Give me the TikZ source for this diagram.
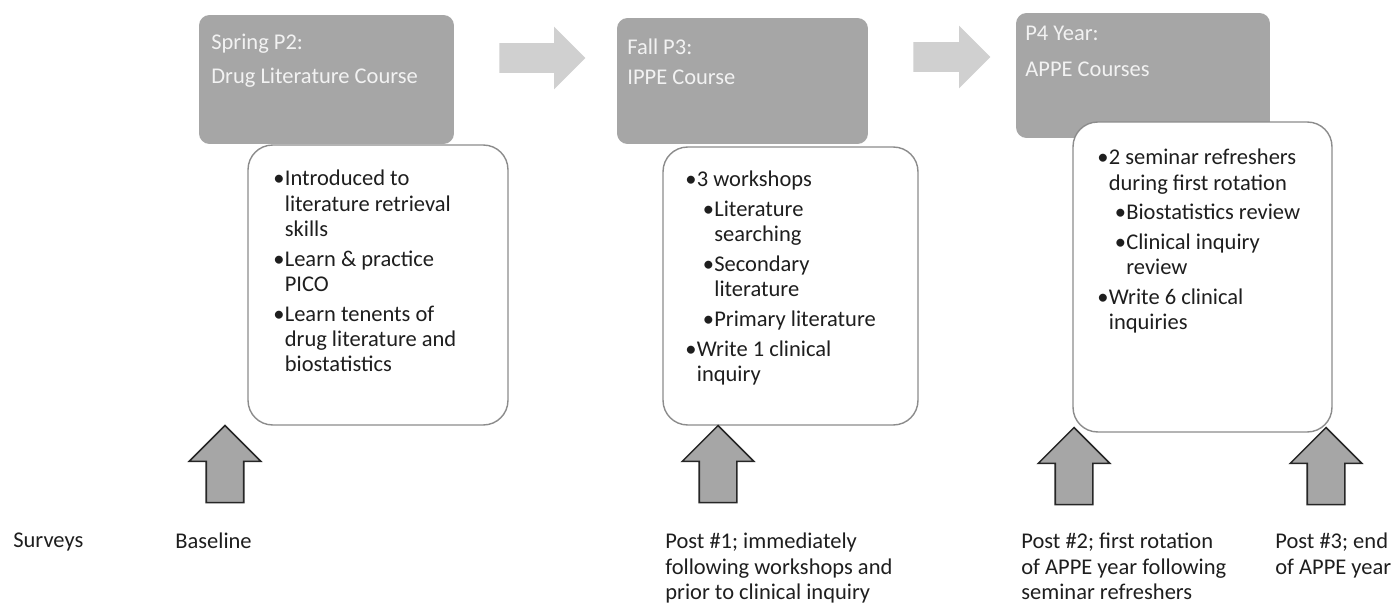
\documentclass[tikz,border=0pt]{standalone}
\usepackage{fontspec}
\setmainfont{Carlito}
\usetikzlibrary{positioning,shapes.arrows}
\definecolor{phase}{HTML}{A6A6A6}
\definecolor{flow}{HTML}{D0D0D0}
\definecolor{edge}{HTML}{8C8C8C}
\definecolor{ink}{HTML}{1E1E1E}
\newcommand{\bodyfont}{\fontsize{12.8pt}{14.4pt}\selectfont}
\newlength{\bulw}\setlength{\bulw}{0.23cm}
\newcommand{\itm}{\makebox[\bulw][l]{\textbullet}}
\newcommand{\cnt}{\hspace*{\bulw}}
\newcommand{\subitm}{\hspace*{0.35cm}\itm}
\newcommand{\subcnt}{\hspace*{0.35cm}\cnt}

\begin{document}
\begin{tikzpicture}[
  x=0.02cm, y=-0.02cm,
  phasebox/.style={fill=phase, rounded corners=6pt, inner sep=0pt},
  phasetitle/.style={anchor=north west, inner sep=0pt, align=left,
                     text=white!95!black, font=\bodyfont},
  notebox/.style={draw=edge, fill=white, rounded corners=14pt, line width=0.8pt, inner sep=0pt},
  notetext/.style={anchor=north west, inner sep=0pt, align=left, text=ink, font=\bodyfont},
  flowarrow/.style={single arrow, fill=flow, single arrow head extend=0.33cm,
                    inner xsep=0pt, inner ysep=0.29cm, minimum width=1.24cm},
  surveyarrow/.style={single arrow, rotate=90, draw=black!85, fill=phase, line width=0.9pt,
                      single arrow head extend=0.34cm, inner xsep=0pt, inner ysep=0.36cm,
                      minimum width=1.4cm, minimum height=1.54cm},
  surveylabel/.style={anchor=north west, inner sep=0pt, align=left, text=ink, font=\bodyfont}
]
  \useasboundingbox (0,0) rectangle (1396,607);

  % Phase boxes
  \node[phasebox, minimum width=5.1cm, minimum height=2.58cm] (spring) at (326.5,79.5) {};
  \node[phasebox, minimum width=5.02cm, minimum height=2.52cm] (fall) at (742.5,81) {};
  \node[phasebox, minimum width=5.08cm, minimum height=2.5cm] (year) at (1143,75.5) {};

  \node[phasetitle] (springtitle) at (211,34) {Spring P2:\\[4.5pt]Drug Literature Course};
  \node[phasetitle] (falltitle) at (627,39) {Fall P3:\\[2.3pt]IPPE Course};
  \node[phasetitle] (yeartitle) at (1025,26) {P4 Year:\\[6.2pt]APPE Courses};

  % Arrows between phases
  \node[flowarrow, minimum height=1.72cm] (flowa) at (535,58) {};
  \node[flowarrow, minimum height=1.54cm] (flowb) at (944.5,57) {};

  % Content boxes
  \node[notebox, minimum width=5.2cm, minimum height=5.6cm] (springnote) at (378,285) {};
  \node[notebox, minimum width=5.1cm, minimum height=5.56cm] (fallnote) at (790.5,286) {};
  \node[notebox, minimum width=5.18cm, minimum height=6.2cm] (yearnote) at (1202.5,277) {};

  \node[notetext] (springlist) at (273,170) {
    \itm Introduced to\\
    \cnt literature retrieval\\
    \cnt skills\\[2.5pt]
    \itm Learn \& practice\\
    \cnt PICO\\[2.5pt]
    \itm Learn tenents of\\
    \cnt drug literature and\\
    \cnt biostatistics
  };

  \node[notetext] (falllist) at (685,171) {
    \itm 3 workshops\\[2.5pt]
    \subitm Literature\\
    \subcnt searching\\[2.5pt]
    \subitm Secondary\\
    \subcnt literature\\[2.5pt]
    \subitm Primary literature\\[2.5pt]
    \itm Write 1 clinical\\
    \cnt inquiry
  };

  \node[notetext] (yearlist) at (1097,149) {
    \itm 2 seminar refreshers\\
    \cnt during first rotation\\[2.5pt]
    \subitm Biostatistics review\\[2.5pt]
    \subitm Clinical inquiry\\
    \subcnt review\\[2.5pt]
    \itm Write 6 clinical\\
    \cnt inquiries
  };

  % Survey points
  \node[surveyarrow] (base) at (225,473.5) {};
  \node[surveyarrow] (postone) at (718,473.5) {};
  \node[surveyarrow] (posttwo) at (1074,475.5) {};
  \node[surveyarrow] (postthree) at (1326,475.5) {};

  \node[surveylabel] (surveys) at (13,533) {Surveys};
  \node[surveylabel] (baseline) at (175,533) {Baseline};
  \node[surveylabel] (postonetxt) at (665,533) {Post \#1; immediately\\following workshops and\\prior to clinical inquiry};
  \node[surveylabel] (posttwotxt) at (1021,533) {Post \#2; first rotation\\of APPE year following\\seminar refreshers};
  \node[surveylabel] (postthreetxt) at (1275,533) {Post \#3; end\\of APPE year};
\end{tikzpicture}
\end{document}
